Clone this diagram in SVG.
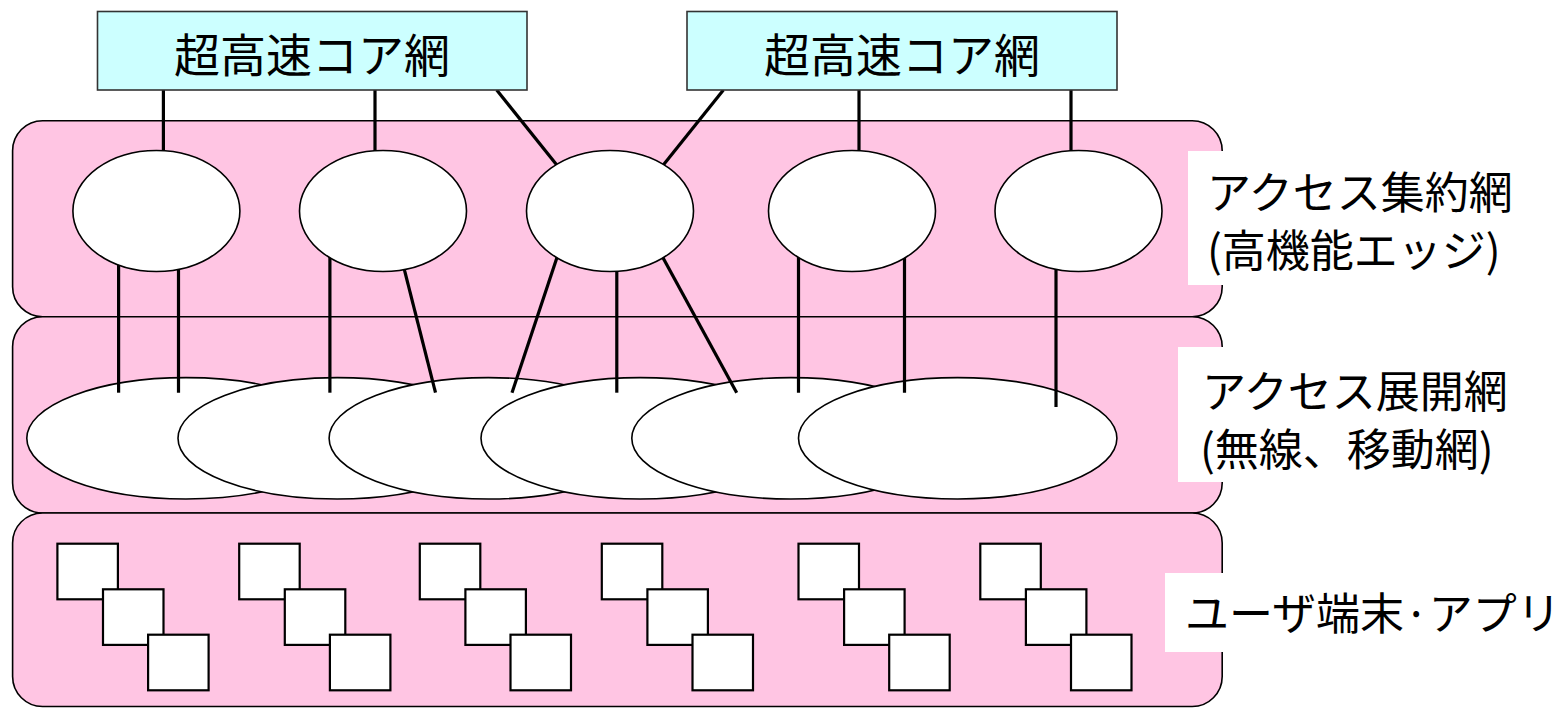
<svg xmlns="http://www.w3.org/2000/svg" width="1564" height="708" viewBox="0 0 1564 708">
<style>
.layer{fill:#FFC5E3;stroke:#000;stroke-width:1.6}
.core{fill:#CCFFFF;stroke:#333;stroke-width:1.6}
.node{fill:#fff;stroke:#000;stroke-width:1.6}
.term{fill:#fff;stroke:#000;stroke-width:2.2}
.conn line{stroke:#000;stroke-width:3.2}
.lbl{fill:#fff}
text{font-family:"Noto Sans CJK JP","Noto Sans CJK SC",sans-serif;fill:#000}
.t1{font-size:46px;text-anchor:middle}
.t2{font-size:44px}
</style>
<rect width="1564" height="708" fill="#fff"/>
<g id="layer-aggregation"><rect class="layer" x="12.6" y="120.7" width="1209.6" height="196" rx="30"/></g>
<g id="layer-deployment"><rect class="layer" x="12.6" y="316.7" width="1209.6" height="196.3" rx="30"/></g>
<g id="layer-user"><rect class="layer" x="12.6" y="513" width="1209.6" height="193.5" rx="30"/></g>

<g id="access-nodes">
<ellipse class="node" cx="186" cy="438.3" rx="159.2" ry="60.7"/>
<ellipse class="node" cx="337.2" cy="438.3" rx="159.2" ry="60.7"/>
<ellipse class="node" cx="488.3" cy="438.3" rx="159.2" ry="60.7"/>
<ellipse class="node" cx="640.2" cy="438.3" rx="159.2" ry="60.7"/>
<ellipse class="node" cx="791" cy="438.3" rx="159.2" ry="60.7"/>
<ellipse class="node" cx="957.7" cy="438.3" rx="159.2" ry="60.7"/>
</g>

<g id="connectors" class="conn">
<line x1="163.4" y1="90" x2="163.4" y2="156"/>
<line x1="375" y1="90" x2="375" y2="156"/>
<line x1="496.7" y1="90" x2="560.6" y2="169.7"/>
<line x1="723.4" y1="90" x2="659.5" y2="169.7"/>
<line x1="859" y1="90" x2="859" y2="156"/>
<line x1="1071" y1="90" x2="1071" y2="156"/>
<line x1="118.6" y1="258" x2="118.6" y2="392.7"/>
<line x1="178.5" y1="262" x2="178.5" y2="392.7"/>
<line x1="329.9" y1="250" x2="329.9" y2="392.7"/>
<line x1="403.4" y1="265.9" x2="435.5" y2="392.7"/>
<line x1="558.7" y1="252.3" x2="512" y2="392.7"/>
<line x1="616.8" y1="264" x2="616.8" y2="392.7"/>
<line x1="660.4" y1="253" x2="736.7" y2="392.7"/>
<line x1="798.5" y1="250" x2="798.5" y2="392.7"/>
<line x1="904.5" y1="250" x2="904.5" y2="392.7"/>
<line x1="1056" y1="264" x2="1056" y2="407"/>
</g>

<g id="edge-nodes">
<ellipse class="node" cx="156.4" cy="211" rx="83.5" ry="60.5"/>
<ellipse class="node" cx="383" cy="211" rx="83.5" ry="60.5"/>
<ellipse class="node" cx="610" cy="211" rx="83.5" ry="60.5"/>
<ellipse class="node" cx="852" cy="211" rx="83.5" ry="60.5"/>
<ellipse class="node" cx="1078.5" cy="211" rx="83.5" ry="60.5"/>
</g>

<g id="core-1"><rect class="core" x="97.5" y="11.5" width="429.5" height="78.5"/><text class="t1" x="312" y="72">超高速コア網</text></g>
<g id="core-2"><rect class="core" x="687" y="11.5" width="430" height="78.5"/><text class="t1" x="902" y="72">超高速コア網</text></g>

<g id="terminals">
<g id="term-1"><rect class="term" x="57.4" y="543.7" width="60.5" height="55.6"/><rect class="term" x="103" y="589.3" width="60.5" height="55.6"/><rect class="term" x="148.1" y="634.7" width="60.5" height="55.6"/></g>
<g id="term-2"><rect class="term" x="239.2" y="543.7" width="60.5" height="55.6"/><rect class="term" x="284.8" y="589.3" width="60.5" height="55.6"/><rect class="term" x="329.9" y="634.7" width="60.5" height="55.6"/></g>
<g id="term-3"><rect class="term" x="419.8" y="543.7" width="60.5" height="55.6"/><rect class="term" x="465.4" y="589.3" width="60.5" height="55.6"/><rect class="term" x="510.5" y="634.7" width="60.5" height="55.6"/></g>
<g id="term-4"><rect class="term" x="601.8" y="543.7" width="60.5" height="55.6"/><rect class="term" x="647.4" y="589.3" width="60.5" height="55.6"/><rect class="term" x="692.5" y="634.7" width="60.5" height="55.6"/></g>
<g id="term-5"><rect class="term" x="798.5" y="543.7" width="60.5" height="55.6"/><rect class="term" x="844.1" y="589.3" width="60.5" height="55.6"/><rect class="term" x="889.2" y="634.7" width="60.5" height="55.6"/></g>
<g id="term-6"><rect class="term" x="980.3" y="543.7" width="60.5" height="55.6"/><rect class="term" x="1025.9" y="589.3" width="60.5" height="55.6"/><rect class="term" x="1071" y="634.7" width="60.5" height="55.6"/></g>
</g>

<g id="label-aggregation"><rect class="lbl" x="1188" y="151" width="370" height="134"/><text class="t2" x="1207" y="209">アクセス集約網</text><text class="t2" x="1207" y="267">(高機能エッジ)</text></g>
<g id="label-deployment"><rect class="lbl" x="1178" y="347" width="380" height="135"/><text class="t2" x="1202" y="408">アクセス展開網</text><text class="t2" x="1200" y="466">(無線、移動網)</text></g>
<g id="label-user"><rect class="lbl" x="1165" y="573" width="399" height="79"/><text class="t2" x="1185" y="630">ユーザ端末·アプリ</text></g>
</svg>
